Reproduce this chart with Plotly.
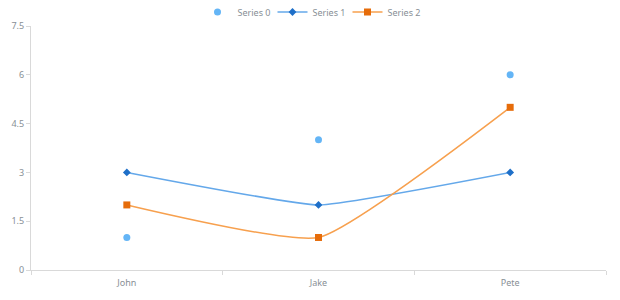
import plotly.graph_objects as go

categories = ["John", "Jake", "Pete"]
series0 = [1, 4, 6]
series1 = [3, 2, 3]
series2 = [2, 1, 5]
y_ticks = [0, 1.5, 3, 4.5, 6, 7.5]
y_tick_labels = ["0", "1.5", "3", "4.5", "6", "7.5"]

fig = go.Figure()
fig.add_trace(go.Scatter(
    x=categories, y=series0, name="Series 0", mode="markers",
    marker=dict(symbol="circle", size=7, color="#64b5f6"),
))
fig.add_trace(go.Scatter(
    x=categories, y=series1, name="Series 1", mode="lines+markers",
    line=dict(color="#64a8ea", width=1.5, shape="spline", smoothing=0.35),
    marker=dict(symbol="diamond", size=6, color="#1e6fc8"),
))
fig.add_trace(go.Scatter(
    x=categories, y=series2, name="Series 2", mode="lines+markers",
    line=dict(color="#f7a04e", width=1.5, shape="spline", smoothing=0.45),
    marker=dict(symbol="square", size=7, color="#e66c0a"),
))

axis_color = "#d9d9d9"
font_color = "#888f96"
fig.update_layout(
    width=620, height=300,
    margin=dict(l=31, r=14, t=26, b=30, autoexpand=False),
    paper_bgcolor="white", plot_bgcolor="white",
    font=dict(family="Noto Sans, sans-serif", size=9, color=font_color),
    showlegend=True,
    legend=dict(orientation="h", x=0.5, xanchor="center", xref="container",
                y=0.96, yanchor="middle", yref="container",
                font=dict(size=9, color=font_color), itemwidth=30,
                entrywidth=30, entrywidthmode="pixels"),
    xaxis=dict(
        type="category", range=[-0.5, 2.5], showgrid=False, zeroline=False,
        showline=True, linecolor=axis_color, linewidth=1,
        ticks="outside", tickson="boundaries", ticklen=4, tickcolor=axis_color,
        ticklabelstandoff=4,
    ),
    yaxis=dict(
        range=[0, 7.5], tickvals=y_ticks, ticktext=y_tick_labels,
        showgrid=False, zeroline=False, showline=True, linecolor=axis_color,
        linewidth=1, ticks="outside", ticklen=4, tickcolor=axis_color,
    ),
)
fig.write_html("out.html")
